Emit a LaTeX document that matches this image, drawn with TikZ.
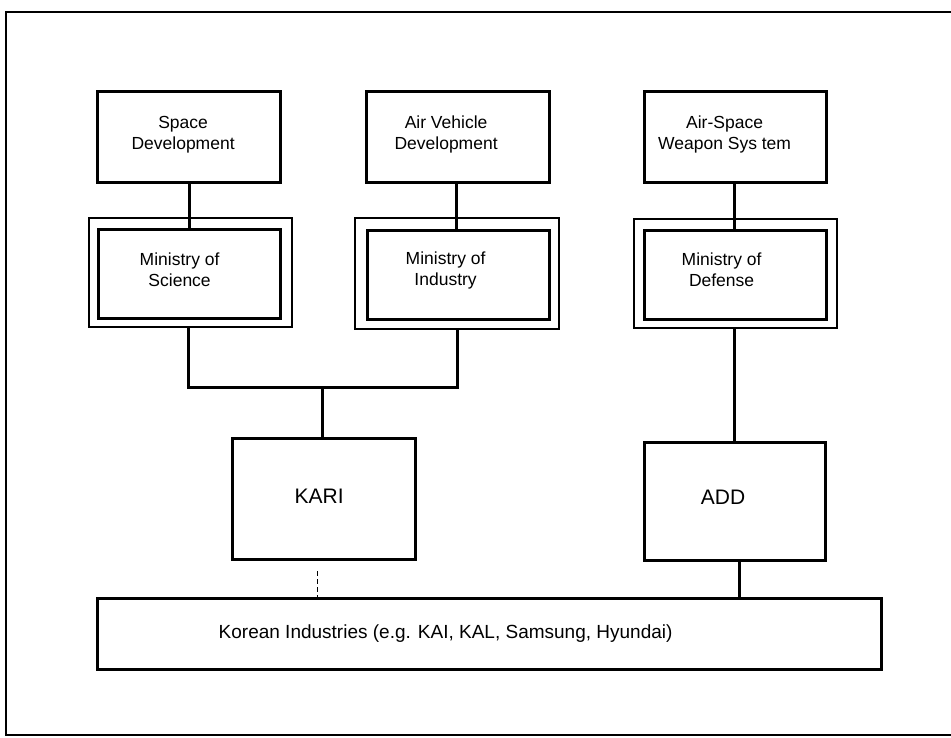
\documentclass[tikz,border=0pt]{standalone}
\usepackage{fontspec}
\setmainfont{Liberation Sans}
\begin{document}
\begin{tikzpicture}[x=1pt,y=-1pt,
  box/.style={draw, line width=3.2pt, inner sep=0pt, anchor=north west},
  outerbox/.style={draw, line width=2.4pt, inner sep=0pt, anchor=north west},
  lbl/.style={align=center, font=\fontsize{17.5}{21}\selectfont, inner sep=0pt},
  conn/.style={line width=3pt},
  dashconn/.style={line width=0.9pt, dash pattern=on 5pt off 3pt}]
\useasboundingbox (0,0) rectangle (951,738);
% outer frame (right side lies outside the picture)
\draw[line width=2.8pt] (970,12) -- (6,12) -- (6,735) -- (970,735);
% top boxes
\node[box, minimum width=183pt, minimum height=91pt,
  label={[lbl, xshift=-6pt, yshift=2.5pt]center:Space\\Development}] (space) at (96,90) {};
\node[box, minimum width=183pt, minimum height=91pt,
  label={[lbl, xshift=-12pt, yshift=2.5pt]center:Air Vehicle\\Development}] (air) at (365,90) {};
\node[box, minimum width=182pt, minimum height=91pt,
  label={[lbl, xshift=-11pt, yshift=2.5pt]center:Air-Space\\Weapon Sys tem}] (weapon) at (643,90) {};
% ministries (double boxes)
\node[outerbox, minimum width=203pt, minimum height=109pt] (scio) at (88,217) {};
\node[box, minimum width=182pt, minimum height=89pt,
  label={[lbl, xshift=-10pt, yshift=4pt]center:Ministry of\\Science}] (sci) at (97,228) {};
\node[outerbox, minimum width=204pt, minimum height=111pt] (indo) at (354,217) {};
\node[box, minimum width=182pt, minimum height=89pt,
  label={[lbl, xshift=-13pt, yshift=5pt]center:Ministry of\\Industry}] (ind) at (366,229) {};
\node[outerbox, minimum width=203pt, minimum height=109pt] (defo) at (633,218) {};
\node[box, minimum width=182pt, minimum height=89pt,
  label={[lbl, xshift=-14pt, yshift=5pt]center:Ministry of\\Defense}] (def) at (643,229) {};
% KARI and ADD
\node[box, minimum width=183pt, minimum height=121pt,
  label={[lbl, font=\fontsize{21}{25}\selectfont, xshift=-5pt, yshift=3pt]center:KARI}] (kari) at (231,437) {};
\node[box, minimum width=181pt, minimum height=118pt,
  label={[lbl, font=\fontsize{21}{25}\selectfont, xshift=-12pt, yshift=4pt]center:ADD}] (add) at (643,441) {};
% industries
\node[box, minimum width=784pt, minimum height=71pt,
  label={[lbl, font=\fontsize{19}{23}\selectfont, xshift=-44pt, yshift=1pt]center:Korean Industries (e.g. KAI, KAL, Samsung, Hyundai)}] (korea) at (96,597) {};
% junction
\coordinate (j) at (322,387);
% connectors
\draw[conn] (space.south -| 189,0) -- (sci.north -| 189,0);
\draw[conn] (air.south -| 456,0) -- (ind.north -| 456,0);
\draw[conn] (weapon.south -| 734,0) -- (def.north -| 734,0);
\draw[conn] (scio.south -| 188,0) -- (j -| 188,0) -- (j -| 457,0) -- (indo.south -| 457,0);
\draw[conn] (j) -- (kari.north -| j);
\draw[conn] (defo.south -| 734,0) -- (add.north -| 734,0);
\draw[conn] (add.south -| 739,0) -- (korea.north -| 739,0);
\draw[dashconn] (kari.south -| 317,0) ++(0,10) -- (korea.north -| 317,0);
\end{tikzpicture}
\end{document}
